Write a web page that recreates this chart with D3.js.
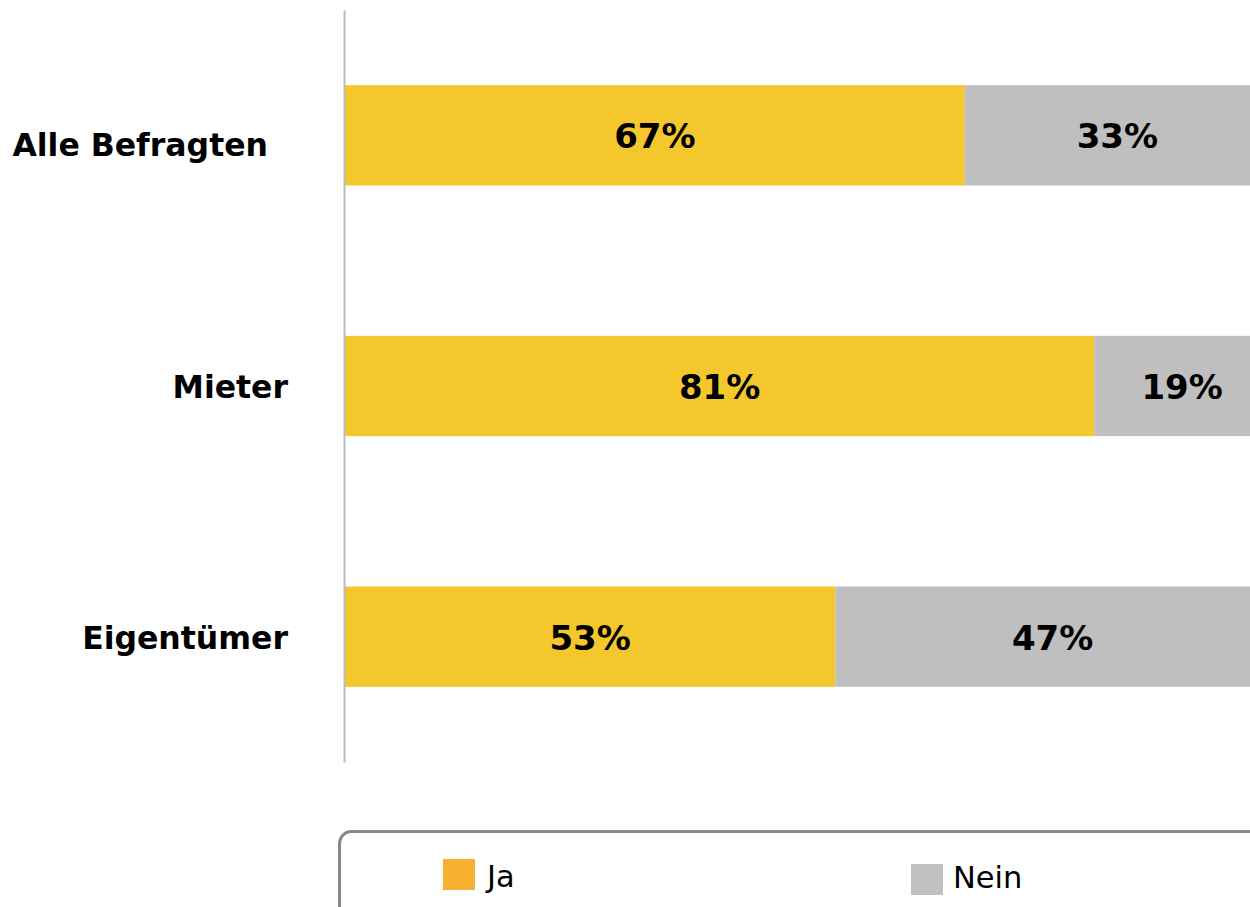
<!doctype html>
<html lang="de">
<head>
  <meta charset="UTF-8">
  <title>Ja / Nein</title>
<style>
  body{
    margin: 0;
    background: #fff;
  }
  svg text{
    font-family: "DejaVu Sans", Verdana, sans-serif;
    fill: #000;
  }
  .cat{
    font-size: 31.5px;
    font-weight: bold;
  }
  .val{
    font-size: 34px;
    font-weight: bold;
  }
  .leg{
    font-size: 30.5px;
  }
</style>
</head>

<body>
<script src="https://d3js.org/d3.v7.min.js"></script>

<script>
var categories = ["Alle Befragten", "Mieter", "Eigentümer"];
var seriesNames = ["Ja", "Nein"];
var ja = [67, 81, 53];
var nein = [33, 19, 47];

var width = 1250,
    height = 907;

var barColors = ["#F4C72D", "#BFBFBF"];
var legendColors = ["#F5B031", "#BFC0C2"];

var svg = d3.select("body").append("svg")
    .attr("width", width)
    .attr("height", height);

// 100% lies past the right edge of the picture, as in the original
var xScale = d3.scaleLinear()
    .domain([0, 100])
    .range([345, 1270]);

var yScale = d3.scaleBand()
    .domain(categories)
    .range([10, 762])
    .paddingInner(0.6)
    .paddingOuter(0.3);

var rows = categories.map(function(c, i){
  return {cat: c, parts: [
    {name: seriesNames[0], x0: 0, x1: ja[i], v: ja[i]},
    {name: seriesNames[1], x0: ja[i], x1: ja[i] + nein[i], v: nein[i]}
  ]};
});

var row = svg.selectAll(".row")
    .data(rows)
  .enter().append("g")
    .attr("class", "row");

row.selectAll("rect")
    .data(function(d){ return d.parts.map(function(p){ return Object.assign({cat: d.cat}, p); }); })
  .enter().append("rect")
    .attr("x", function(d){ return xScale(d.x0); })
    .attr("y", function(d){ return yScale(d.cat); })
    .attr("width", function(d){ return xScale(d.x1) - xScale(d.x0); })
    .attr("height", yScale.bandwidth())
    .attr("fill", function(d, i){ return barColors[i]; });

row.selectAll(".val")
    .data(function(d){ return d.parts.map(function(p){ return Object.assign({cat: d.cat}, p); }); })
  .enter().append("text")
    .attr("class", "val")
    .attr("text-anchor", "middle")
    .attr("x", function(d){ return (xScale(d.x0) + xScale(d.x1)) / 2; })
    .attr("y", function(d){ return yScale(d.cat) + yScale.bandwidth() / 2 + 13; })
    .text(function(d){ return d.v + "%"; });

// category axis
var yAxis = d3.axisLeft(yScale)
    .tickSize(0)
    .tickPadding(0);

var ax = svg.append("g")
    .attr("transform", "translate(344,0)")
    .call(yAxis);

ax.select(".domain")
    .attr("stroke", "#BBBBBB")
    .attr("stroke-width", 2);

ax.selectAll(".tick text")
    .attr("class", "cat")
    .attr("font-family", null)
    .attr("font-size", null)
    .attr("fill", "#000")
    .attr("dy", null)
    .attr("y", function(d, i){ return i === 0 ? 21 : 12; })
    .attr("x", function(d, i){ return i === 0 ? -76 : -56; });

// legend
svg.append("rect")
    .attr("x", 339.5)
    .attr("y", 831.5)
    .attr("width", 1000)
    .attr("height", 200)
    .attr("rx", 12)
    .attr("fill", "none")
    .attr("stroke", "#888888")
    .attr("stroke-width", 3);

var legX = [443, 911];
var legY = [859, 864];

var leg = svg.selectAll(".legitem")
    .data(seriesNames)
  .enter().append("g")
    .attr("class", "legitem")
    .attr("transform", function(d, i){ return "translate(" + legX[i] + "," + legY[i] + ")"; });

leg.append("rect")
    .attr("width", 32)
    .attr("height", 31)
    .attr("fill", function(d, i){ return legendColors[i]; });

leg.append("text")
    .attr("class", "leg")
    .attr("x", function(d, i){ return i === 0 ? 44 : 42; })
    .attr("y", function(d, i){ return i === 0 ? 28 : 24; })
    .text(function(d){ return d; });
</script>
</body>
</html>
